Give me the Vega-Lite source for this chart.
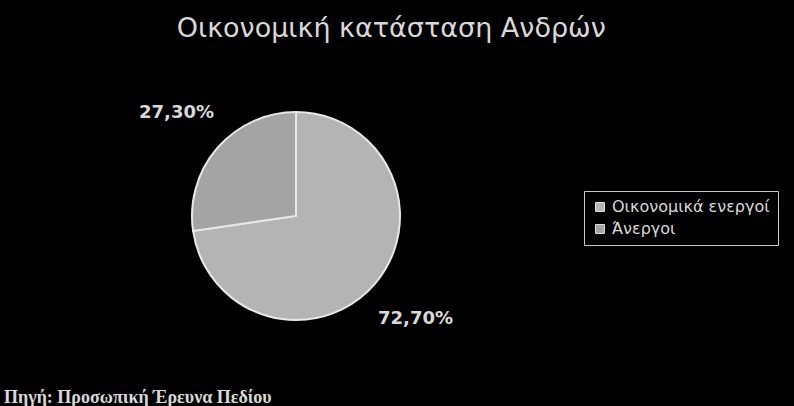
{
  "$schema": "https://vega.github.io/schema/vega-lite/v6.json",
  "background": "#000000",
  "padding": {"left": 4, "top": 15, "right": 30, "bottom": 2},
  "title": {
    "text": "Οικονομική κατάσταση Ανδρών",
    "font": "DejaVu Sans",
    "fontSize": 27,
    "fontWeight": "normal",
    "color": "#d8d8d8",
    "anchor": "middle",
    "offset": 10
  },
  "data": {
    "values": [
      {"status": "Οικονομικά ενεργοί", "value": 72.7, "label": "72,70%", "order": 1},
      {"status": "Άνεργοι", "value": 27.3, "label": "27,30%", "order": 2}
    ]
  },
  "config": {"view": {"stroke": null}},
  "vconcat": [
    {
      "width": 584,
      "height": 326,
      "title": {
        "text": "Πηγή: Προσωπική Έρευνα Πεδίου",
        "orient": "bottom",
        "anchor": "start",
        "font": "Liberation Serif",
        "fontSize": 18,
        "fontWeight": "bold",
        "color": "#d8d8d8",
        "offset": 10
      },
      "encoding": {
        "theta": {"field": "value", "type": "quantitative", "stack": true},
        "order": {"field": "order"}
      },
      "layer": [
        {
          "mark": {"type": "arc", "outerRadius": 104, "stroke": "#e8e8e8", "strokeWidth": 2},
          "encoding": {
            "color": {
              "field": "status",
              "type": "nominal",
              "sort": ["Οικονομικά ενεργοί", "Άνεργοι"],
              "scale": {"domain": ["Οικονομικά ενεργοί", "Άνεργοι"], "range": ["#b4b4b4", "#a4a4a4"]},
              "legend": {
                "orient": "none",
                "legendX": 580,
                "legendY": 138,
                "title": null,
                "symbolType": "square",
                "symbolSize": 80,
                "symbolStrokeColor": "#e0e0e0",
                "symbolStrokeWidth": 1,
                "labelFont": "DejaVu Sans",
                "labelFontSize": 16,
                "labelColor": "#d8d8d8",
                "labelLimit": 300,
                "rowPadding": 6,
                "padding": 8,
                "strokeColor": "#c8c8c8",
                "fillColor": "#000000"
              }
            }
          }
        },
        {
          "mark": {
            "type": "text",
            "radius": 158,
            "font": "DejaVu Sans",
            "fontSize": 18,
            "fontWeight": "bold",
            "fill": "#d8d8d8"
          },
          "encoding": {
            "text": {"field": "label", "type": "nominal"}
          }
        }
      ]
    }
  ]
}
